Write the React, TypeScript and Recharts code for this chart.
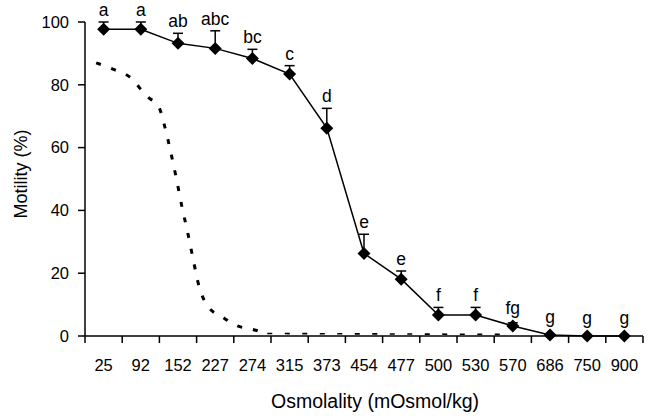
import React from "react";
import { ComposedChart, Line, XAxis, YAxis, ErrorBar, LabelList } from "recharts";

// osmolality groups (mOsmol/kg), one category each
const osmolality = ["25", "92", "152", "227", "274", "315", "373", "454", "477", "500", "530", "570", "686", "750", "900"];
const motility = [97.7, 97.7, 93.2, 91.6, 88.4, 83.4, 66.2, 26.3, 18.1, 6.7, 6.7, 3.2, 0.3, 0, 0];
const errUp = [2.3, 2.3, 3.2, 5.6, 2.9, 2.7, 6.3, 6.1, 2.6, 2.4, 2.4, 1.0, 0, 0, 0];
const letters = ["a", "a", "ab", "abc", "bc", "c", "d", "e", "e", "f", "f", "fg", "g", "g", "g"];

// dotted curve, positions given on the category scale (0 = left edge of "25")
const curvePos = [0.3, 0.75, 1.2, 1.65, 2.0, 2.15, 2.3, 2.45, 2.6, 2.75, 2.9, 3.05, 3.3, 3.7, 4.1, 4.5, 4.9];
const curveMot = [87, 85, 82.5, 76.5, 72.5, 66.4, 58.8, 50.5, 41.5, 33.5, 24.9, 16.5, 9.5, 6, 3.2, 2.1, 0.8];
const tailPos = [4.9, 11.4];
const tailMot = [0.8, 0.5];

const yTicks = [0, 20, 40, 60, 80, 100];
const xEdges = Array.from({ length: osmolality.length + 1 }, (_, i) => i);

const W = 652;
const H = 418;
const LEFT = 85;
const RIGHT = 9;
const TOP = 22;
const BOTTOM = 82;
const HALF = (W - LEFT - RIGHT) / osmolality.length / 2;
const FONT = "'Liberation Sans', Arial, sans-serif";

const mainData = osmolality.map((_, i) => ({
  pos: i + 0.5,
  motility: motility[i],
  err: [0, errUp[i]],
  labelAt: Math.max(motility[i] + errUp[i], motility[i] + 2),
  letter: letters[i],
}));
const curveData = curvePos.map((p, i) => ({ pos: p, ctrl: curveMot[i] }));
const tailData = tailPos.map((p, i) => ({ pos: p, tail: tailMot[i] }));

function Diamond(props: any) {
  const { cx, cy, index } = props;
  if (cx == null || cy == null) return <g key={index} />;
  const r = 6.5;
  return (
    <polygon
      key={index}
      points={`${cx},${cy - r} ${cx + r},${cy} ${cx},${cy + r} ${cx - r},${cy}`}
      fill="#000"
    />
  );
}

function XTick(props: any) {
  const { x, y, payload } = props;
  const i = payload.value;
  if (i >= osmolality.length) return <g />;
  return (
    <text x={x + HALF} y={y} dy="0.71em" textAnchor="middle" fill="#000" fontSize={16.5} fontFamily={FONT}>
      {osmolality[i]}
    </text>
  );
}

export default function App() {
  return (
    <div style={{ position: "absolute", left: 0, top: 0, background: "#fff" }}>
      <ComposedChart width={W} height={H} margin={{ top: TOP, right: RIGHT, bottom: BOTTOM - 30, left: 0 }}>
        <XAxis
          type="number"
          dataKey="pos"
          domain={[0, osmolality.length]}
          ticks={xEdges}
          interval={0}
          allowDataOverflow
          height={30}
          tickSize={7}
          tickMargin={16}
          axisLine={{ stroke: "#000", strokeWidth: 1.5 }}
          tickLine={{ stroke: "#000", strokeWidth: 1.5 }}
          tick={<XTick />}
          label={{
            content: (p: any) => {
              const vb = p.viewBox || { x: LEFT, width: W - LEFT - RIGHT };
              return (
                <text x={vb.x + vb.width / 2 + 11} y={408} textAnchor="middle" fill="#000" fontSize={19.5} fontFamily={FONT}>
                  Osmolality (mOsmol/kg)
                </text>
              );
            },
          }}
        />
        <YAxis
          type="number"
          domain={[0, 100]}
          ticks={yTicks}
          interval={0}
          width={LEFT}
          tickSize={7}
          tickMargin={9}
          axisLine={{ stroke: "#000", strokeWidth: 1.5 }}
          tickLine={{ stroke: "#000", strokeWidth: 1.5 }}
          tick={{ fill: "#000", fontSize: 16.5, fontFamily: FONT }}
          label={{
            content: (p: any) => {
              const vb = p.viewBox || { y: TOP, height: H - TOP - BOTTOM };
              const cy = vb.y + vb.height / 2 - 5;
              return (
                <text x={27} y={cy} transform={`rotate(-90 27 ${cy})`} textAnchor="middle" fill="#000" fontSize={18} fontFamily={FONT}>
                  Motility (%)
                </text>
              );
            },
          }}
        />
        <Line
          data={curveData}
          dataKey="ctrl"
          type="monotone"
          stroke="#000"
          strokeWidth={3}
          strokeDasharray="5 11"
          dot={false}
          activeDot={false}
          isAnimationActive={false}
        />
        <Line
          data={tailData}
          dataKey="tail"
          type="linear"
          stroke="#000"
          strokeWidth={1.6}
          strokeDasharray="5 12.5"
          dot={false}
          activeDot={false}
          isAnimationActive={false}
        />
        <Line
          data={mainData}
          dataKey="motility"
          type="linear"
          stroke="#000"
          strokeWidth={1.5}
          dot={<Diamond />}
          activeDot={false}
          isAnimationActive={false}
        >
          <ErrorBar dataKey="err" direction="y" width={5} stroke="#000" strokeWidth={1.5} />
        </Line>
        <Line
          data={mainData}
          dataKey="labelAt"
          stroke="none"
          dot={false}
          activeDot={false}
          isAnimationActive={false}
        >
          <LabelList dataKey="letter" position="top" offset={6} fill="#000" fontSize={17.5} fontFamily={FONT} />
        </Line>
      </ComposedChart>
    </div>
  );
}
